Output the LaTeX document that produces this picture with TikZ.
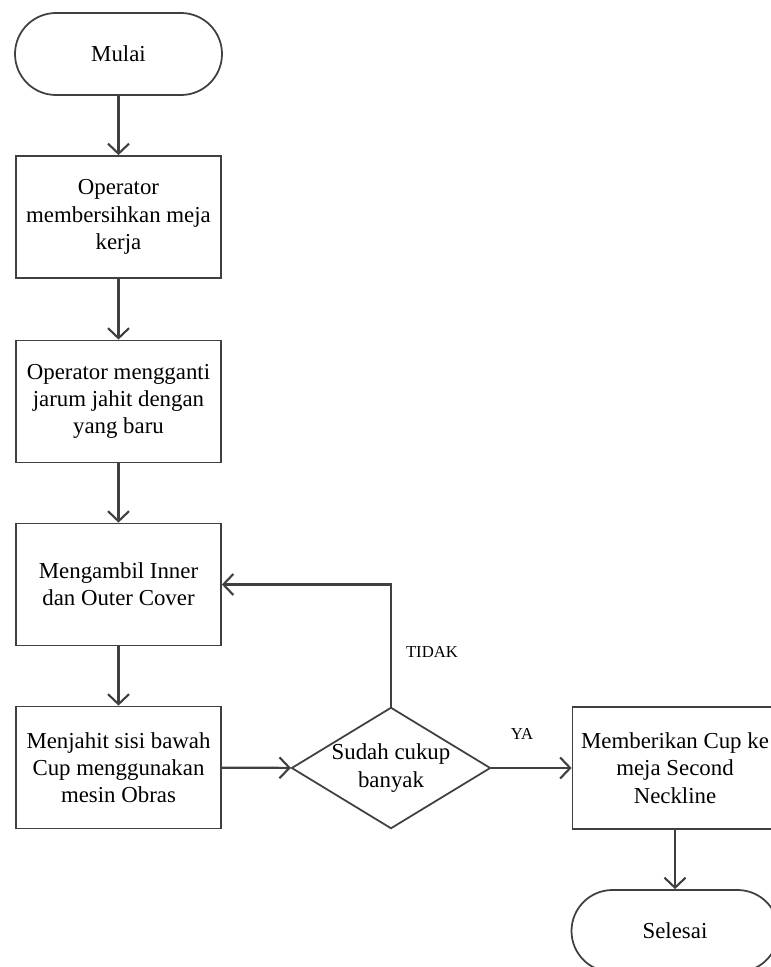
\documentclass[tikz,border=0pt]{standalone}
\usepackage{fontspec}
\setmainfont{Liberation Serif}
\usetikzlibrary{arrows.meta}
\usetikzlibrary{shapes.geometric}

\tikzset{
  line/.style = {draw=black!75, line width=1pt},
  terminal/.style = {line, rectangle, rounded corners=0.82cm, minimum width=4.14cm,
    minimum height=1.64cm, font=\fontsize{13}{15.5}\selectfont},
  process/.style = {line, rectangle, minimum width=4.1cm, minimum height=2.44cm,
    inner sep=0pt, align=center, font=\fontsize{13}{15.5}\selectfont},
  decision/.style = {line, diamond, aspect=1.62, inner sep=0pt, minimum width=3.98cm,
    minimum height=2.42cm, align=center, font=\fontsize{13}{15.5}\selectfont},
  flow/.style = {line, line width=1.2pt, -{Straight Barb[length=2mm, width=4.2mm]}},
  answer/.style = {font=\fontsize{9.5}{11}\selectfont}
}

\begin{document}
\begin{tikzpicture}
      \useasboundingbox (0, 0) rectangle (15.42, -19.34);
      \fill[white] (0, 0) rectangle (15.42, -19.34);

      \node[terminal] (mulai) at (2.37, -1.08) {Mulai};
      \node[process] (bersih) at (2.37, -4.34) {Operator\\membersihkan meja\\kerja};
      \node[process] (jarum) at (2.37, -8.03) {Operator mengganti\\jarum jahit dengan\\yang baru};
      \node[process] (ambil) at (2.37, -11.69) {Mengambil Inner\\dan Outer Cover};
      \node[process] (jahit) at (2.37, -15.35) {Menjahit sisi bawah\\Cup menggunakan\\mesin Obras};
      \node[decision] (cukup) at (7.82, -15.36) {Sudah cukup\\banyak};
      \node[process] (beri) at (13.5, -15.36) {Memberikan Cup ke\\meja Second\\Neckline};
      \node[terminal] (selesai) at (13.5, -18.62) {Selesai};

      \draw[flow] (mulai) -- (bersih);
      \draw[flow] (bersih) -- (jarum);
      \draw[flow] (jarum) -- (ambil);
      \draw[flow] (ambil) -- (jahit);
      \draw[flow] (jahit) -- (cukup);
      \draw[flow] (cukup) -- (beri);
      \draw[flow] (cukup.north) |- (ambil.east);
      \draw[flow] (beri) -- (selesai);

      \node[answer] (tidak) at (8.64, -13.04) {TIDAK};
      \node[answer] (ya) at (10.44, -14.68) {YA};
    \end{tikzpicture}
\end{document}
